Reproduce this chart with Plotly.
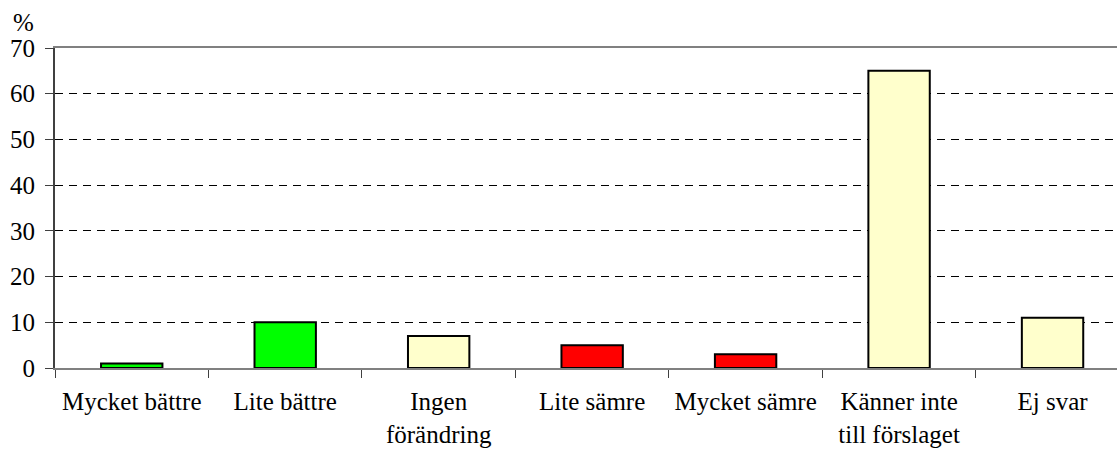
import plotly.graph_objects as go

# Svar på frågan, andel i procent
categories = ['Mycket bättre', 'Lite bättre', 'Ingen<br>förändring', 'Lite sämre',
              'Mycket sämre', 'Känner inte<br>till förslaget', 'Ej svar']
values = [1, 10, 7, 5, 3, 65, 11]
y_ticks = [0, 10, 20, 30, 40, 50, 60, 70]

GREEN, RED, YELLOW = '#00FF00', '#FF0000', '#FFFFCC'
bar_colors = [GREEN, GREEN, YELLOW, RED, RED, YELLOW, YELLOW]

FONT = dict(family='Liberation Serif, Times New Roman, serif', size=25, color='black')

fig = go.Figure()
fig.add_trace(go.Bar(x=categories, y=values, width=0.4,
                     marker=dict(color=bar_colors, line=dict(color='black', width=2))))

# Sista kategorin är delvis avskuren i högerkanten
fig.update_xaxes(range=[-0.5, 6.42], showline=True, linecolor='#808080', linewidth=2, mirror=True,
                 ticks='outside', tickson='boundaries', ticklen=8, tickcolor='#404040',
                 ticklabelstandoff=10, showgrid=False, tickfont=FONT)
fig.update_yaxes(range=[0, 70], tickvals=y_ticks, showline=True, linecolor='#404040', linewidth=2,
                 ticks='outside', ticklen=8, tickcolor='#404040', ticklabelstandoff=5,
                 showgrid=True, gridcolor='black', gridwidth=1, griddash='8px,6px',
                 zeroline=False, tickfont=FONT)

fig.add_annotation(text='%', xref='paper', yref='paper', x=0, y=1, xanchor='center',
                   yanchor='bottom', xshift=-32, yshift=10, showarrow=False, font=FONT)

fig.update_layout(width=1117, height=450, margin=dict(l=55, r=0, t=48, b=82),
                  plot_bgcolor='white', paper_bgcolor='white', showlegend=False,
                  bargap=0.6, font=FONT)

# ta bort sidans standardmarginal så att figuren börjar i hörnet
fig.write_html('out.html', config={'displayModeBar': False},
               post_script="document.body.style.margin='0';"
                           "document.documentElement.style.overflow='hidden';")
